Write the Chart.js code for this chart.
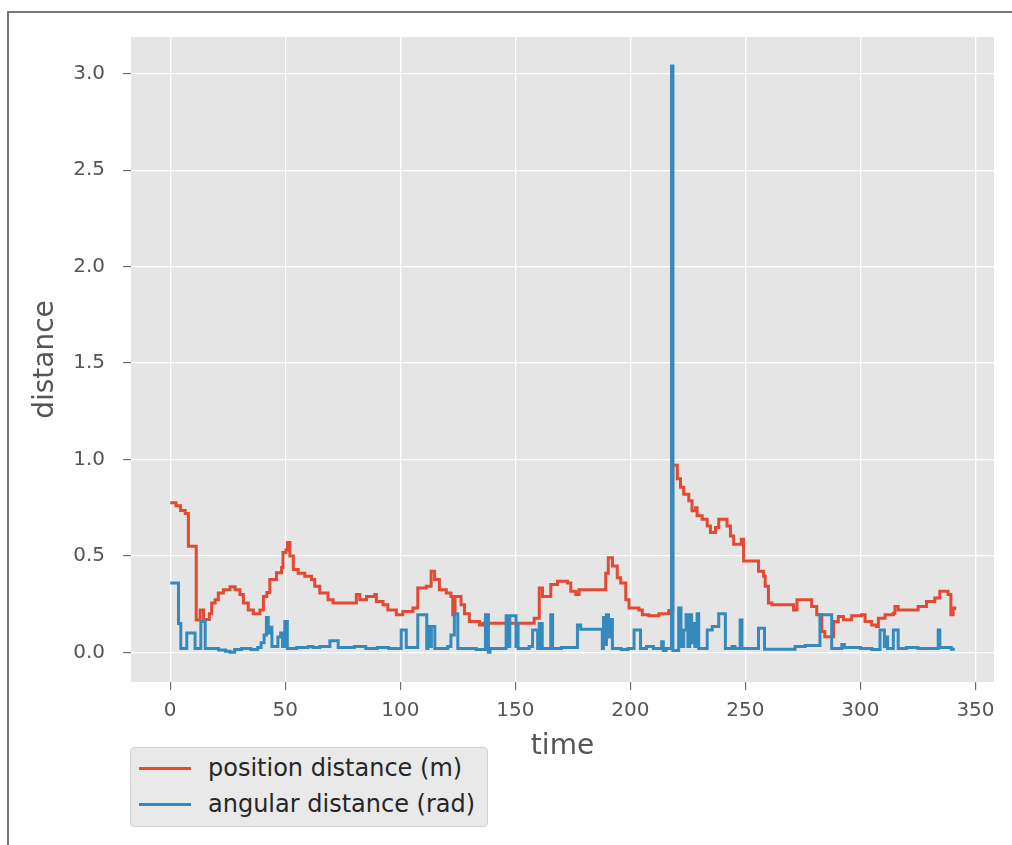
<!DOCTYPE html>
<html>
<head>
<meta charset="utf-8">
<script src="https://cdn.jsdelivr.net/npm/chart.js@4/dist/chart.umd.min.js"></script>
<style>
  html, body { margin: 0; padding: 0; background: #ffffff; }
  #wrap { position: relative; width: 1012px; height: 845px; overflow: hidden; }
  #frame { position: absolute; left: 7px; top: 11px; right: -10px; bottom: -10px;
           border-left: 2px solid #777777; border-top: 2px solid #777777; }
  #plot { position: absolute; left: 0; top: 0; }
  #legend { position: absolute; left: 130px; top: 747px; width: 358px; height: 80px;
            box-sizing: border-box; background: #e9e9e9; border: 1px solid #d2d2d2;
            border-radius: 4px; font-family: "DejaVu Sans", sans-serif; font-size: 24px; color: #262626; }
  .item { position: absolute; left: 0; width: 100%; height: 36px; }
  .swatch { position: absolute; left: 8px; top: 17px; width: 52px; height: 3px; }
  .label { position: absolute; left: 77px; top: 0; line-height: 36px; white-space: nowrap; }
</style>
</head>
<body>
<div id="wrap">
  <div id="frame"></div>
  <canvas id="plot" width="1012" height="845"></canvas>
  <div id="legend"></div>
</div>
<script>
// time (s) at which each value starts, and the value held from then on
const posTime = [0, 2.5, 4.5, 6.5, 7.9, 11.3, 13, 14.5, 17, 18, 19.5, 20.9, 23.1, 26, 28.2, 30.3, 31.8, 33.9, 36.1, 39,
  40.5, 42, 43.3, 46.2, 48.4, 49, 50.3, 51, 52, 53.5, 55.6, 58.5, 61.4, 62.8, 65, 68.6, 70.8, 80.9, 82.4, 85.3,
  88.9, 89.6, 92.5, 94.6, 98.3, 101.1, 105.5, 107.6, 111.3, 113.4, 114.9, 117, 120, 122, 122.8, 123.8, 126.4, 127.9, 130, 134.4,
  135.8, 158.2, 160.4, 161.8, 165.4, 168.3, 172.7, 174.1, 176.3, 177.7, 189.3, 190.4, 192.2, 194.3, 195.8, 198, 199.4, 203.7, 205.2, 208,
  212.4, 216.7, 218.4, 220.4, 221.8, 223.2, 225.4, 226.8, 228.3, 229, 231.2, 233.4, 234.8, 237, 238.4, 242, 243.5, 244.9, 248.2, 249.2,
  255.7, 257.9, 258.6, 260, 261.5, 270.9, 272.4, 278.8, 281, 283.2, 284.5, 288.3, 290.4, 292.6, 296.2, 300.5, 302, 304.9, 307, 307.8,
  310.7, 314.3, 315, 316.4, 325.1, 328.7, 332.3, 334.5, 338.1, 339.3, 340.3, 341];
const posDist = [0.775, 0.76, 0.735, 0.72, 0.55, 0.168, 0.22, 0.17, 0.2, 0.256, 0.273, 0.308, 0.325, 0.34, 0.325, 0.3, 0.256, 0.22, 0.2, 0.22,
  0.29, 0.31, 0.377, 0.413, 0.44, 0.518, 0.53, 0.569, 0.5, 0.43, 0.41, 0.395, 0.377, 0.342, 0.308, 0.273, 0.256, 0.3, 0.273, 0.29,
  0.3, 0.264, 0.247, 0.22, 0.195, 0.212, 0.23, 0.334, 0.342, 0.42, 0.377, 0.325, 0.308, 0.29, 0.195, 0.29, 0.247, 0.2, 0.16, 0.142,
  0.151, 0.177, 0.334, 0.29, 0.351, 0.368, 0.36, 0.316, 0.3, 0.325, 0.41, 0.49, 0.447, 0.386, 0.36, 0.273, 0.23, 0.22, 0.195, 0.19,
  0.2, 0.217, 0.97, 0.9, 0.856, 0.82, 0.786, 0.734, 0.75, 0.708, 0.69, 0.655, 0.621, 0.647, 0.69, 0.655, 0.603, 0.56, 0.586, 0.473,
  0.42, 0.395, 0.342, 0.256, 0.247, 0.22, 0.273, 0.238, 0.195, 0.108, 0.081, 0.16, 0.186, 0.169, 0.19, 0.195, 0.16, 0.142, 0.134, 0.177,
  0.195, 0.203, 0.238, 0.22, 0.238, 0.264, 0.282, 0.316, 0.3, 0.195, 0.23, 0.22];

const angTime = [0, 3.6, 4.6, 7.2, 10.8, 13.3, 15.2, 21, 24, 26, 28, 31, 35, 38, 39.5, 40.8, 41.8, 42.6, 43.3, 44.2,
  46.8, 48, 48.8, 49.8, 50.9, 55, 60, 62, 65, 69.4, 73, 80, 85, 90, 95, 100.4, 102.6, 107.6, 111.5, 112,
  113, 113.5, 115, 120.6, 122, 123.5, 125, 130, 133, 137, 138.3, 139, 146, 147, 147.6, 150.3, 150.8, 151.2, 156, 157.5,
  159.7, 160.4, 161.7, 165.4, 166.2, 170, 177, 178.4, 187.8, 188.3, 189, 189.6, 190.5, 191.2, 192.2, 196, 199, 201.6, 204.4, 207,
  210, 213.6, 214.3, 215.5, 217.9, 218.5, 221, 222, 223.2, 224.2, 225, 225.8, 226.6, 227.5, 228, 229, 229.7, 233.4, 235.6, 238.4,
  241.3, 244.2, 245.5, 247.7, 248.5, 255.7, 258.3, 271.6, 276, 282.4, 287.5, 291.9, 293, 300, 305, 308.5, 310.4, 311.1, 311.8, 314.3,
  316.4, 320, 325, 333.8, 334.5, 339.5, 341];
const angDist = [0.36, 0.15, 0.02, 0.10, 0.02, 0.16, 0.02, 0.012, 0.005, 0.0, 0.015, 0.02, 0.015, 0.025, 0.05, 0.09, 0.18, 0.10, 0.13, 0.03,
  0.08, 0.10, 0.03, 0.16, 0.02, 0.025, 0.03, 0.025, 0.03, 0.06, 0.025, 0.03, 0.02, 0.025, 0.02, 0.116, 0.025, 0.195, 0.02, 0.134,
  0.03, 0.134, 0.02, 0.03, 0.09, 0.2, 0.02, 0.02, 0.015, 0.195, 0.0, 0.02, 0.19, 0.03, 0.19, 0.03, 0.15, 0.02, 0.03, 0.116,
  0.02, 0.15, 0.02, 0.195, 0.02, 0.025, 0.142, 0.12, 0.02, 0.18, 0.04, 0.195, 0.08, 0.17, 0.02, 0.015, 0.02, 0.116, 0.02, 0.03,
  0.02, 0.055, 0.01, 0.02, 3.04, 0.01, 0.23, 0.03, 0.116, 0.195, 0.03, 0.195, 0.05, 0.15, 0.03, 0.2, 0.02, 0.116, 0.134, 0.2,
  0.02, 0.03, 0.02, 0.168, 0.02, 0.125, 0.016, 0.03, 0.035, 0.195, 0.02, 0.04, 0.025, 0.02, 0.015, 0.116, 0.03, 0.08, 0.02, 0.116,
  0.02, 0.025, 0.02, 0.116, 0.025, 0.016, 0.016];

const seriesLabels = ['position distance (m)', 'angular distance (rad)'];
const seriesColors = ['#E24A33', '#348ABD'];
const xTicks = [0, 50, 100, 150, 200, 250, 300, 350];
const yTicks = [0.0, 0.5, 1.0, 1.5, 2.0, 2.5, 3.0];

const toPoints = (ts, vs) => ts.map((t, i) => ({ x: t, y: vs[i] }));

const panelBackground = {
  id: 'panelBackground',
  beforeDraw(chart) {
    const { ctx, chartArea: a } = chart;
    ctx.save();
    ctx.fillStyle = '#E5E5E5';
    ctx.fillRect(a.left, a.top, a.right - a.left, a.bottom - a.top);
    ctx.restore();
  }
};

const tickFont = { family: 'DejaVu Sans', size: 20 };
const titleFont = { family: 'DejaVu Sans', size: 28 };

new Chart(document.getElementById('plot'), {
  type: 'line',
  data: {
    datasets: [
      { label: seriesLabels[0], data: toPoints(posTime, posDist), borderColor: seriesColors[0], order: 2 },
      { label: seriesLabels[1], data: toPoints(angTime, angDist), borderColor: seriesColors[1], order: 1 }
    ]
  },
  options: {
    responsive: false,
    animation: false,
    layout: { padding: { left: 0, right: 18, top: 37, bottom: 81 } },
    plugins: { legend: { display: false }, tooltip: { enabled: false } },
    elements: {
      point: { radius: 0 },
      line: { borderWidth: 3, tension: 0, stepped: true, fill: false }
    },
    scales: {
      x: {
        type: 'linear',
        min: -17.05,
        max: 358.05,
        afterBuildTicks: s => { s.ticks = xTicks.map(v => ({ value: v })); },
        afterFit: s => { s.height = 82; },
        border: { display: false },
        grid: { color: '#FFFFFF', lineWidth: 1.3, tickColor: '#555555', tickLength: 8, tickWidth: 1 },
        ticks: { color: '#555555', font: tickFont, padding: 9, maxRotation: 0, callback: v => String(v) },
        title: { display: true, text: 'time', color: '#555555', font: titleFont, padding: 0 }
      },
      y: {
        type: 'linear',
        min: -0.154,
        max: 3.191,
        afterBuildTicks: s => { s.ticks = yTicks.map(v => ({ value: v })); },
        afterFit: s => { s.width = 131; },
        border: { display: false },
        grid: { color: '#FFFFFF', lineWidth: 1.3, tickColor: '#555555', tickLength: 8, tickWidth: 1 },
        ticks: { color: '#555555', font: tickFont, padding: 18, callback: v => v.toFixed(1) },
        title: { display: true, text: 'distance', color: '#555555', font: titleFont, padding: { top: 29, bottom: 0 } }
      }
    }
  },
  plugins: [panelBackground]
});

// legend below the axes, built from the series labels and colours
const legend = document.getElementById('legend');
seriesLabels.forEach((name, i) => {
  const item = document.createElement('div');
  item.className = 'item';
  item.style.top = (2 + i * 36) + 'px';
  const sw = document.createElement('div');
  sw.className = 'swatch';
  sw.style.background = seriesColors[i];
  const tx = document.createElement('div');
  tx.className = 'label';
  tx.textContent = name;
  item.appendChild(sw);
  item.appendChild(tx);
  legend.appendChild(item);
});
</script>
</body>
</html>
